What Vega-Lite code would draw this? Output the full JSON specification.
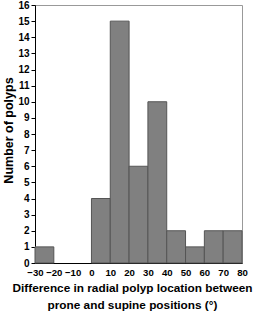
{
  "$schema": "https://vega.github.io/schema/vega-lite/v6.json",
  "width": 207,
  "height": 258,
  "autosize": {"type": "none"},
  "padding": {"left": 35, "top": 5, "right": 13, "bottom": 49},
  "background": "white",
  "config": {
    "view": {"stroke": "#999999", "strokeWidth": 1},
    "font": "Liberation Sans"
  },
  "data": {
    "values": [
      {"start": -30, "end": -20, "count": 1},
      {"start": 0, "end": 10, "count": 4},
      {"start": 10, "end": 20, "count": 15},
      {"start": 20, "end": 30, "count": 6},
      {"start": 30, "end": 40, "count": 10},
      {"start": 40, "end": 50, "count": 2},
      {"start": 50, "end": 60, "count": 1},
      {"start": 60, "end": 70, "count": 2},
      {"start": 70, "end": 80, "count": 2}
    ]
  },
  "mark": {"type": "rect", "fill": "#808080", "stroke": "#555555", "strokeWidth": 1},
  "encoding": {
    "x": {
      "field": "start",
      "type": "quantitative",
      "scale": {"domain": [-30, 80], "nice": false, "zero": false},
      "axis": {
        "values": [-30, -20, -10, 0, 10, 20, 30, 40, 50, 60, 70, 80],
        "grid": false,
        "domainColor": "#000000",
        "tickColor": "#000000",
        "tickSize": 0,
        "labelFont": "Liberation Sans",
        "labelFontWeight": "bold",
        "labelFontSize": 9.6,
        "labelColor": "#000000",
        "labelPadding": 4,
        "labelFlush": false,
        "labelOverlap": false,
        "title": ["Difference in radial polyp location between", "prone and supine positions (°)"],
        "titleFont": "Liberation Sans",
        "titleFontWeight": "bold",
        "titleFontSize": 11.8,
        "titleColor": "#000000",
        "titleLineHeight": 17,
        "titleX": 97,
        "titleY": 19
      }
    },
    "x2": {"field": "end"},
    "y": {
      "field": "count",
      "type": "quantitative",
      "scale": {"domain": [0, 16], "nice": false},
      "axis": {
        "values": [0, 1, 2, 3, 4, 5, 6, 7, 8, 9, 10, 11, 12, 13, 14, 15, 16],
        "grid": false,
        "domainColor": "#000000",
        "tickColor": "#000000",
        "tickSize": 4,
        "labelFont": "Liberation Sans",
        "labelFontWeight": "bold",
        "labelFontSize": 10,
        "labelColor": "#000000",
        "labelPadding": 2,
        "labelOverlap": false,
        "title": "Number of polyps",
        "titleFont": "Liberation Sans",
        "titleFontWeight": "bold",
        "titleFontSize": 12.5,
        "titleColor": "#000000",
        "titleBaseline": "middle",
        "titleX": -27,
        "titleY": 125
      }
    },
    "y2": {"datum": 0}
  }
}
